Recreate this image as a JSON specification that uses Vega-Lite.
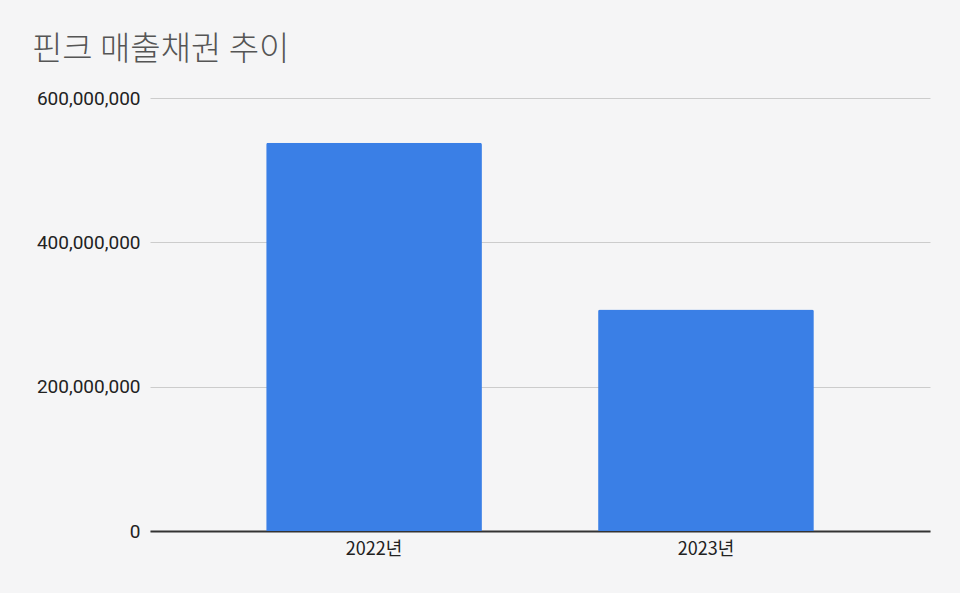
{
  "$schema": "https://vega.github.io/schema/vega-lite/v6.json",
  "autosize": {"type": "none"},
  "padding": {"left": 150, "top": 98, "right": 30, "bottom": 62},
  "width": 780,
  "height": 433,
  "background": "#f5f5f6",
  "title": {
    "text": "핀크 매출채권 추이",
    "anchor": "start",
    "frame": "group",
    "dx": -118,
    "offset": 22,
    "font": "Noto Sans CJK KR",
    "fontSize": 33,
    "fontWeight": 300,
    "color": "#555555"
  },
  "data": {
    "values": [
      {"year": "2022년", "amount": 538000000},
      {"year": "2023년", "amount": 307000000}
    ]
  },
  "config": {
    "view": {"stroke": null}
  },
  "mark": {"type": "bar", "color": "#3a7fe6", "cornerRadiusTopLeft": 2, "cornerRadiusTopRight": 2},
  "encoding": {
    "x": {
      "field": "year",
      "type": "nominal",
      "sort": null,
      "title": null,
      "scale": {"paddingInner": 0.35, "paddingOuter": 0.35},
      "axis": {
        "labelAngle": 0,
        "labelFont": "Noto Sans CJK KR",
        "labelFontSize": 18,
        "labelColor": "#222222",
        "labelPadding": 9,
        "ticks": false,
        "domainColor": "#333333",
        "domainWidth": 2
      }
    },
    "y": {
      "field": "amount",
      "type": "quantitative",
      "title": null,
      "scale": {"domain": [0, 600000000]},
      "axis": {
        "values": [0, 200000000, 400000000, 600000000],
        "format": ",d",
        "labelFont": "Roboto",
        "labelFontSize": 19,
        "labelColor": "#222222",
        "labelPadding": 10,
        "ticks": false,
        "domain": false,
        "gridColor": "#cccccc",
        "gridWidth": 1
      }
    }
  }
}
